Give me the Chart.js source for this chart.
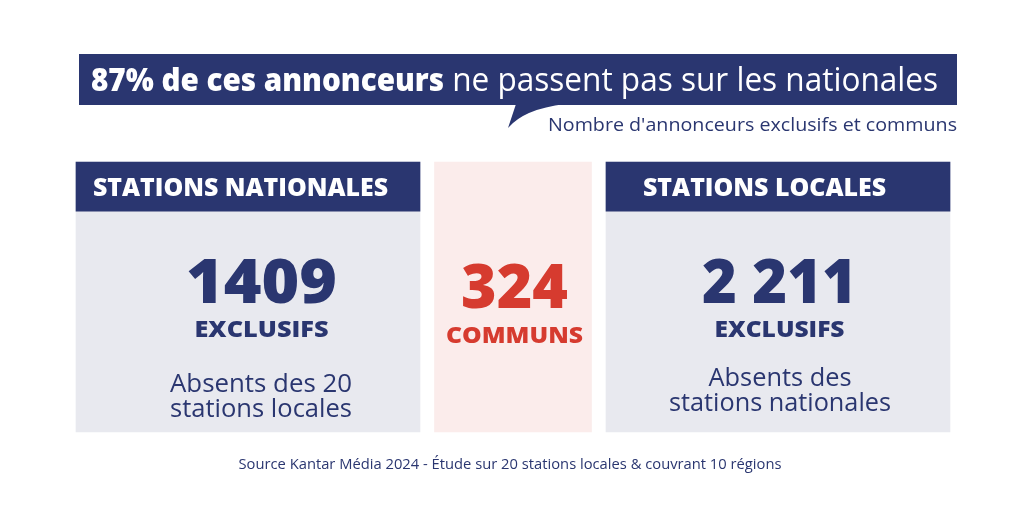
<!DOCTYPE html>
<html lang="fr">
<head>
<meta charset="UTF-8" />
<title>Annonceurs exclusifs et communs</title>
<script src="https://cdn.jsdelivr.net/npm/chart.js"></script>
<style>
    body { margin: 0; background: #fff; }
    #wrap { width: 1024px; height: 505px; position: relative; }
</style>
</head>
<body>
<div id="wrap"><canvas id="infoChart"></canvas></div>
<script>
// data
const categories = ['STATIONS NATIONALES', 'COMMUNS', 'STATIONS LOCALES'];
const counts = [1409, 324, 2211];
const countLabels = ['1409', '324', '2 211'];
const kindLabels = ['EXCLUSIFS', 'COMMUNS', 'EXCLUSIFS'];
const notes = [['Absents des 20', 'stations locales'], [], ['Absents des', 'stations nationales']];
const titleBold = '87% de ces annonceurs';
const titleRest = ' ne passent pas sur les nationales';
const subtitle = "Nombre d'annonceurs exclusifs et communs";
const source = 'Source Kantar Média 2024 - Étude sur 20 stations locales & couvrant 10 régions';

const NAVY = '#2a3670';
const GREY = '#e8e9ef';
const PINK = '#fbeceb';
const RED = '#d63b2f';
const FONT = '"Open Sans", "Noto Sans", sans-serif';

// draw text squeezed/stretched to a given width
function fitText(ctx, text, x, y, font, width, align) {
    ctx.save();
    ctx.font = font;
    const w = ctx.measureText(text).width;
    ctx.translate(x, y);
    ctx.scale(width / w, 1);
    ctx.textAlign = align || 'left';
    ctx.textBaseline = 'alphabetic';
    ctx.fillText(text, 0, 0);
    ctx.restore();
}

const textPlugin = {
    id: 'infoText',
    afterDatasetsDraw(chart) {
        const ctx = chart.ctx;
        const area = chart.chartArea;
        const bars = chart.getDatasetMeta(0).data;
        const mid = chart.getDatasetMeta(1).data[1];

        // title banner + speech tail
        ctx.save();
        ctx.fillStyle = NAVY;
        ctx.fillRect(79, 54, 878, 51);
        ctx.beginPath();
        ctx.moveTo(516, 104);
        ctx.lineTo(508, 128);
        ctx.quadraticCurveTo(524, 109, 565, 104);
        ctx.closePath();
        ctx.fill();

        ctx.fillStyle = '#ffffff';
        fitText(ctx, titleBold, 91, 91, '800 32px ' + FONT, 353);
        fitText(ctx, titleRest, 444, 91, '400 32px ' + FONT, 494);

        ctx.fillStyle = NAVY;
        fitText(ctx, subtitle, 957, 131, '400 19px ' + FONT, 409, 'right');
        fitText(ctx, source, 510, 469, '400 14px ' + FONT, 543, 'center');

        // panel headers
        ctx.fillStyle = '#ffffff';
        fitText(ctx, categories[0], 93, area.top + 34, '800 24px ' + FONT, 295);
        fitText(ctx, categories[2], 643, area.top + 34, '800 24px ' + FONT, 243);

        // big numbers
        const numCenter = [bars[0].x + 13.5, mid.x + 1.5, bars[2].x + 1.5];
        const numW = [151, 107, 155];
        const kindW = [134, 137, 130];
        counts.forEach((v, i) => {
            ctx.fillStyle = i === 1 ? RED : NAVY;
            const base = i === 1 ? 308 : 303;
            fitText(ctx, countLabels[i], numCenter[i], base, '800 62px ' + FONT, numW[i], 'center');
            fitText(ctx, kindLabels[i], numCenter[i], i === 1 ? 343 : 337, '800 23px ' + FONT, kindW[i], 'center');
        });

        // notes
        ctx.fillStyle = NAVY;
        fitText(ctx, notes[0][0], bars[0].x + 13, 392, '400 25px ' + FONT, 182, 'center');
        fitText(ctx, notes[0][1], bars[0].x + 13, 417, '400 25px ' + FONT, 182, 'center');
        fitText(ctx, notes[2][0], bars[2].x + 2, 386, '400 25px ' + FONT, 143, 'center');
        fitText(ctx, notes[2][1], bars[2].x + 2, 411, '400 25px ' + FONT, 222, 'center');
        ctx.restore();
    }
};

// each panel is a floating bar spanning the full value range; header is the top slice
const panelSpan = [0, 100];
const headerSpan = [81.8, 100];

new Chart(document.getElementById('infoChart'), {
    type: 'bar',
    data: {
        labels: categories,
        datasets: [
            { data: [panelSpan, null, panelSpan], backgroundColor: GREY, barThickness: 344, grouped: false, clip: false, order: 3 },
            { data: [null, panelSpan, null], backgroundColor: PINK, barThickness: 157, grouped: false, clip: false, order: 2 },
            { data: [headerSpan, null, headerSpan], backgroundColor: NAVY, barThickness: 344, grouped: false, clip: false, order: 1 }
        ]
    },
    options: {
        responsive: true,
        maintainAspectRatio: false,
        animation: false,
        layout: { padding: { left: 115.5, right: 113.5, top: 162, bottom: 73 } },
        plugins: { legend: { display: false }, tooltip: { enabled: false } },
        scales: {
            x: { display: false },
            y: { display: false, min: 0, max: 100 }
        }
    },
    plugins: [textPlugin]
});
</script>
</body>
</html>
